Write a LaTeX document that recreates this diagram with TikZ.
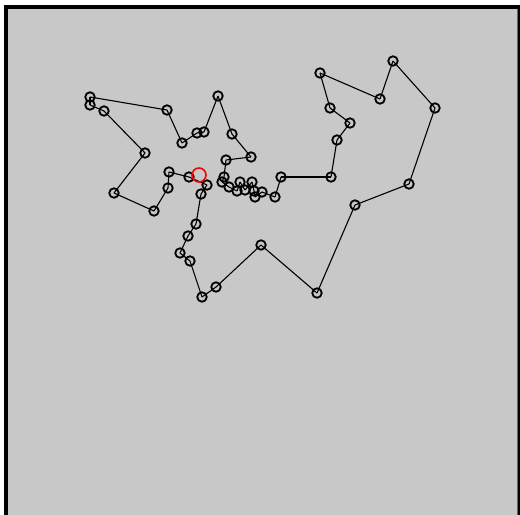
\documentclass[tikz,border=0pt]{standalone}
\definecolor{bggray}{HTML}{C8C8C8}
\tikzset{
  pt/.style={circle,draw=black,line width=1.8bp,minimum size=9.5bp,inner sep=0pt},
  edge/.style={draw=black,line width=1.1bp},
  marker/.style={circle,draw=red,line width=1.6bp,minimum size=14bp,inner sep=0pt}
}
\begin{document}
\begin{tikzpicture}[x=1bp,y=-1bp]
\useasboundingbox (0,0) rectangle (520,515);
\fill[white] (0,0) rectangle (520,515);
\fill[black] (4,5) rectangle (520,515);
\fill[bggray] (8,9) rectangle (517.5,515);
\draw[black!60,line width=0.6bp] (517.5,9) -- (517.5,515);
\foreach \x/\y [count=\i] in {
 90/97, 90/105, 104/111, 145/153, 114/193, 154/211, 168/188, 169/172, 189/177, 207/185,
 201/194, 196/224, 188/236, 180/253, 190/261, 202/297, 216/287, 261/245, 317/293, 355/205,
 409/184, 435/108, 393/61, 380/99, 320/73, 330/108, 350/123, 337/140, 331/177, 281/177,
 275/197, 262/192, 255/197, 254/191, 252/182, 245/190, 240/182, 237/191, 229/187, 222/182,
 224/177, 226/160, 251/157, 232/134, 218/96, 204/132, 197/133, 182/143, 167/110}
 {\node[pt] (p\i) at (\x,\y) {};}
\foreach \i in {1,...,48} {
  \pgfmathtruncatemacro\k{\i+1}
  \draw[edge] (p\i.center) -- (p\k.center);
}
\draw[edge] (p49.center) -- (p1.center);
\node[marker] (cur) at (199,175) {};
\end{tikzpicture}
\end{document}
